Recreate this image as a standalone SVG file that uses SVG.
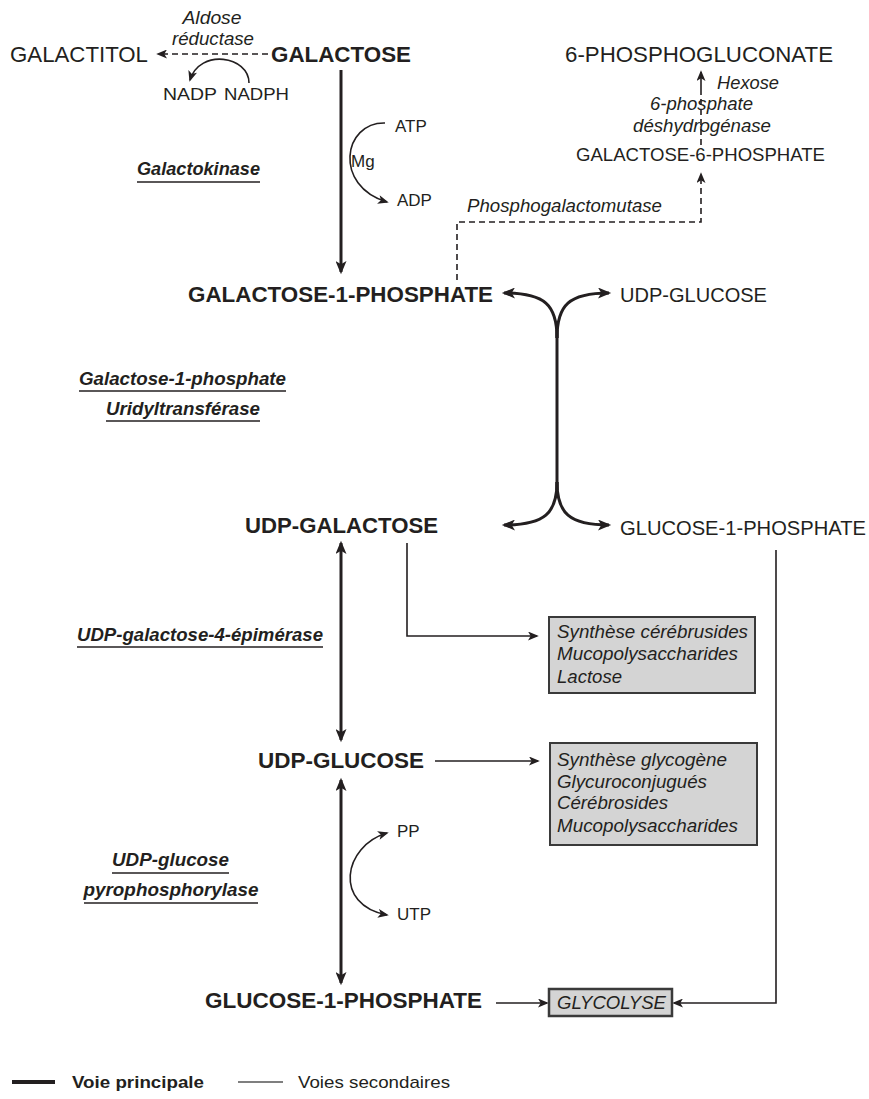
<svg xmlns="http://www.w3.org/2000/svg" width="869" height="1099" viewBox="0 0 869 1099">
<defs>
<style>
text{font-family:"Liberation Sans",Arial,sans-serif;fill:#231f20}
.b{font-weight:bold}
.i{font-style:italic}
.big{font-size:22px}
.mid{font-size:19.5px}
.sm{font-size:17px}
.it{font-size:18px;font-style:italic}
.enz{font-size:18px;font-weight:bold;font-style:italic}
.box{fill:#d4d4d4;stroke:#3a3a3a;stroke-width:2}
.thick{fill:none;stroke:#231f20;stroke-width:3}
.thin{fill:none;stroke:#231f20;stroke-width:1.6}
.dash{fill:none;stroke:#231f20;stroke-width:1.6;stroke-dasharray:6,4}
.ul{stroke:#231f20;stroke-width:1.5}
</style>
<marker id="ah" viewBox="0 0 12 10" refX="10" refY="5" markerWidth="14" markerHeight="11" markerUnits="userSpaceOnUse" orient="auto-start-reverse">
<path d="M0,0 L12,5 L0,10 L3,5 z" fill="#231f20"/>
</marker>
<marker id="ahs" viewBox="0 0 12 10" refX="10" refY="5" markerWidth="12" markerHeight="9" markerUnits="userSpaceOnUse" orient="auto-start-reverse">
<path d="M0,0 L12,5 L0,10 L3,5 z" fill="#231f20"/>
</marker>
</defs>

<g id="connectors">
<path class="dash" d="M268,54 L158,54" marker-end="url(#ahs)"/>
<path class="thin" d="M249,83 C249,56 200,48 190,80" marker-end="url(#ahs)"/>
<path class="thick" d="M341,70 L341,272" marker-end="url(#ah)"/>
<path class="thin" d="M385,123 C343,122 333,186 387,202" marker-end="url(#ahs)"/>
<path class="dash" d="M701,145 L701,94"/>
<path class="thin" d="M701,94 L701,72" marker-end="url(#ahs)"/>
<path class="dash" d="M457,280 L457,222 L701,222 L701,174" marker-end="url(#ahs)"/>
<path class="thick" d="M557,330 L557,490"/>
<path class="thick" d="M557,338 C557,305 545,293 504,293" marker-end="url(#ah)"/>
<path class="thick" d="M557,338 C557,305 569,293 609,293" marker-end="url(#ah)"/>
<path class="thick" d="M557,482 C557,513 545,525 504,525" marker-end="url(#ah)"/>
<path class="thick" d="M557,482 C557,513 569,525 609,525" marker-end="url(#ah)"/>
<path class="thick" d="M341,543 L341,740" marker-start="url(#ah)" marker-end="url(#ah)"/>
<path class="thin" d="M407,543 L407,636 L537,636" marker-end="url(#ahs)"/>
<path class="thin" d="M435,761 L538,761" marker-end="url(#ahs)"/>
<path class="thick" d="M341,780 L341,983" marker-start="url(#ah)" marker-end="url(#ah)"/>
<path class="thin" d="M387,833 C343,846 333,905 387,915" marker-start="url(#ahs)" marker-end="url(#ahs)"/>
<path class="thin" d="M496,1003 L547,1003" marker-end="url(#ahs)"/>
<path class="thin" d="M776,550 L776,1003 L674,1003" marker-end="url(#ahs)"/>
</g>

<g id="galactitol"><text class="big" x="10" y="62" textLength="138" lengthAdjust="spacingAndGlyphs">GALACTITOL</text></g>
<g id="galactose"><text class="big b" x="271" y="62" textLength="140" lengthAdjust="spacingAndGlyphs">GALACTOSE</text></g>
<g id="aldose-reductase">
<text class="it" x="212" y="24" text-anchor="middle" textLength="59" lengthAdjust="spacingAndGlyphs">Aldose</text>
<text class="it" x="213" y="45" text-anchor="middle" textLength="82" lengthAdjust="spacingAndGlyphs">réductase</text>
</g>
<g id="nadp"><text class="sm" x="163" y="100" textLength="54" lengthAdjust="spacingAndGlyphs">NADP</text></g>
<g id="nadph"><text class="sm" x="224" y="100" textLength="65" lengthAdjust="spacingAndGlyphs">NADPH</text></g>
<g id="atp"><text class="sm" x="395" y="132">ATP</text></g>
<g id="mg"><text class="sm" x="351" y="167">Mg</text></g>
<g id="adp"><text class="sm" x="397" y="206">ADP</text></g>
<g id="galactokinase">
<text class="enz" x="198.5" y="175" text-anchor="middle" textLength="123" lengthAdjust="spacingAndGlyphs">Galactokinase</text>
<line class="ul" x1="137" y1="182" x2="260" y2="182"/>
</g>
<g id="phosphogluconate"><text class="big" x="565" y="62" textLength="268" lengthAdjust="spacingAndGlyphs">6-PHOSPHOGLUCONATE</text></g>
<g id="h6pd">
<text class="it" x="717" y="89" textLength="62" lengthAdjust="spacingAndGlyphs">Hexose</text>
<text class="it" x="650" y="110" textLength="103" lengthAdjust="spacingAndGlyphs">6-phosphate</text>
<text class="it" x="633" y="132" textLength="138" lengthAdjust="spacingAndGlyphs">déshydrogénase</text>
</g>
<g id="galactose-6-phosphate"><text style="font-size:18.5px" x="576" y="161" textLength="249" lengthAdjust="spacingAndGlyphs">GALACTOSE-6-PHOSPHATE</text></g>
<g id="phosphogalactomutase"><text class="it" x="467" y="212" textLength="195" lengthAdjust="spacingAndGlyphs">Phosphogalactomutase</text></g>
<g id="galactose-1-phosphate"><text class="big b" x="188" y="302" textLength="305" lengthAdjust="spacingAndGlyphs">GALACTOSE-1-PHOSPHATE</text></g>
<g id="udp-glucose-top"><text class="mid" x="620" y="302" textLength="147" lengthAdjust="spacingAndGlyphs">UDP-GLUCOSE</text></g>
<g id="uridyltransferase">
<text class="enz" x="182.5" y="385" text-anchor="middle" textLength="207" lengthAdjust="spacingAndGlyphs">Galactose-1-phosphate</text>
<line class="ul" x1="79" y1="391" x2="286" y2="391"/>
<text class="enz" x="183" y="415" text-anchor="middle" textLength="154" lengthAdjust="spacingAndGlyphs">Uridyltransférase</text>
<line class="ul" x1="106" y1="421" x2="260" y2="421"/>
</g>
<g id="udp-galactose"><text class="big b" x="245" y="533" textLength="193" lengthAdjust="spacingAndGlyphs">UDP-GALACTOSE</text></g>
<g id="glucose-1-phosphate-right"><text class="mid" x="620" y="535" textLength="246" lengthAdjust="spacingAndGlyphs">GLUCOSE-1-PHOSPHATE</text></g>
<g id="epimerase">
<text class="enz" x="200" y="641" text-anchor="middle" textLength="246" lengthAdjust="spacingAndGlyphs">UDP-galactose-4-épimérase</text>
<line class="ul" x1="77" y1="647" x2="323" y2="647"/>
</g>
<g id="box-cerebrosides">
<rect class="box" x="549" y="617" width="206" height="76"/>
<text class="it" x="557" y="638" textLength="191" lengthAdjust="spacingAndGlyphs">Synthèse cérébrusides</text>
<text class="it" x="557" y="660" textLength="181" lengthAdjust="spacingAndGlyphs">Mucopolysaccharides</text>
<text class="it" x="557" y="683" textLength="65" lengthAdjust="spacingAndGlyphs">Lactose</text>
</g>
<g id="udp-glucose"><text class="big b" x="258" y="768" textLength="166" lengthAdjust="spacingAndGlyphs">UDP-GLUCOSE</text></g>
<g id="box-glycogene">
<rect class="box" x="550" y="743" width="207" height="102"/>
<text class="it" x="557" y="766" textLength="170" lengthAdjust="spacingAndGlyphs">Synthèse glycogène</text>
<text class="it" x="557" y="788" textLength="150" lengthAdjust="spacingAndGlyphs">Glycuroconjugués</text>
<text class="it" x="557" y="809" textLength="111" lengthAdjust="spacingAndGlyphs">Cérébrosides</text>
<text class="it" x="557" y="832" textLength="181" lengthAdjust="spacingAndGlyphs">Mucopolysaccharides</text>
</g>
<g id="pyrophosphorylase">
<text class="enz" x="170.5" y="866" text-anchor="middle" textLength="117" lengthAdjust="spacingAndGlyphs">UDP-glucose</text>
<line class="ul" x1="112" y1="873" x2="229" y2="873"/>
<text class="enz" x="171" y="896" text-anchor="middle" textLength="175" lengthAdjust="spacingAndGlyphs">pyrophosphorylase</text>
<line class="ul" x1="84" y1="903" x2="258" y2="903"/>
</g>
<g id="pp"><text class="sm" x="397" y="837">PP</text></g>
<g id="utp"><text class="sm" x="397" y="920">UTP</text></g>
<g id="glucose-1-phosphate"><text class="big b" x="205" y="1008" textLength="277" lengthAdjust="spacingAndGlyphs">GLUCOSE-1-PHOSPHATE</text></g>
<g id="glycolyse">
<rect class="box" style="stroke-width:2.5" x="549" y="989" width="123" height="27"/>
<text class="it" x="557" y="1009" textLength="109" lengthAdjust="spacingAndGlyphs">GLYCOLYSE</text>
</g>
<g id="legend">
<line x1="12" y1="1082" x2="55" y2="1082" stroke="#231f20" stroke-width="4"/>
<text class="sm b" x="72" y="1088" textLength="132" lengthAdjust="spacingAndGlyphs">Voie principale</text>
<line x1="238" y1="1082" x2="283" y2="1082" stroke="#555" stroke-width="1.5"/>
<text class="sm" x="298" y="1088" textLength="152" lengthAdjust="spacingAndGlyphs">Voies secondaires</text>
</g>
</svg>
